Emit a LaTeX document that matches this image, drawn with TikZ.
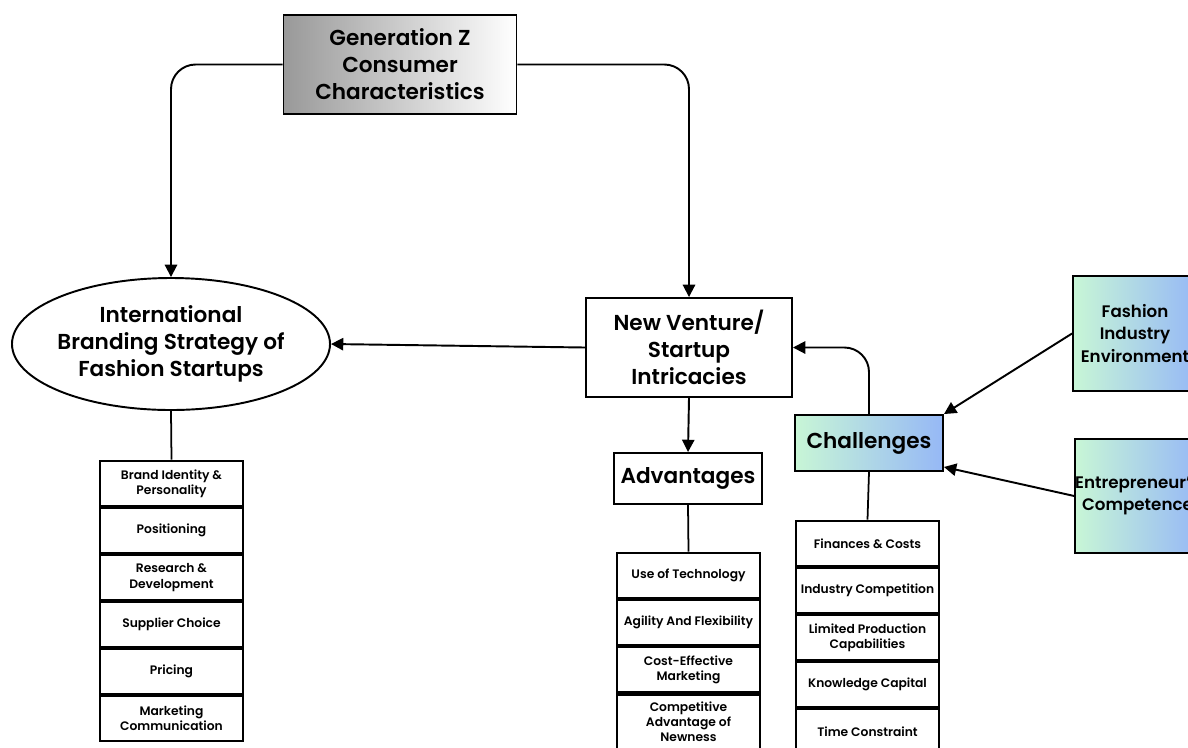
\documentclass[tikz,border=0pt]{standalone}
\usepackage{fontspec}
\setmainfont{Poppins}[UprightFont=* Medium,BoldFont=* SemiBold]
\usetikzlibrary{arrows.meta,shapes.geometric}
\definecolor{mint}{RGB}{200,246,214}
\definecolor{skyblue}{RGB}{150,184,246}
\begin{document}
\begin{tikzpicture}[
    arr/.style={-{Triangle[length=7pt,width=7pt]},line width=1.1pt,rounded corners=14pt},
    link/.style={line width=1pt},
    mainbox/.style={draw,line width=1.1pt,align=center,inner sep=0pt,font=\bfseries\fontsize{12.3}{15.3}\selectfont},
    listbox/.style={draw,line width=1.5pt,align=center,inner sep=0pt,minimum width=2.86cm,
      minimum height=0.9cm,font=\fontsize{7}{8.6}\selectfont\bfseries},
    greenblue/.style={left color=mint,right color=skyblue}]
  \useasboundingbox (0,0) rectangle (23.76,-14.94);
  % top and middle row
  \node[mainbox,left color=black!40,right color=white,minimum width=4.66cm,minimum height=1.98cm]
    (genz) at (8.0,-1.29) {Generation Z\\Consumer\\Characteristics};
  \node[mainbox,ellipse,inner sep=-3pt,minimum width=6.36cm,minimum height=2.64cm]
    (brand) at (3.42,-6.88) {International\\Branding Strategy of\\Fashion Startups};
  \node[mainbox,minimum width=4.12cm,minimum height=1.98cm]
    (venture) at (13.78,-6.95) {New Venture/\\Startup\\Intricacies};
  \node[mainbox,minimum width=2.96cm,minimum height=1.02cm]
    (adv) at (13.76,-9.57) {Advantages};
  \node[mainbox,greenblue,minimum width=2.96cm,minimum height=1.12cm]
    (chal) at (17.38,-8.86) {Challenges};
  \node[mainbox,greenblue,minimum width=2.48cm,minimum height=2.3cm,
    font=\bfseries\fontsize{9.5}{12.7}\selectfont]
    (env) at (22.7,-6.67) {Fashion\\Industry\\Environment};
  \node[mainbox,greenblue,minimum width=2.48cm,minimum height=2.28cm,
    font=\bfseries\fontsize{9.5}{12.7}\selectfont]
    (comp) at (22.75,-9.92) {Entrepreneur's\\Competence};
  % lists
  \foreach \txt [count=\i] in {{Brand Identity \&\\Personality},Positioning,
      {Research \&\\Development},Supplier Choice,Pricing,{Marketing\\Communication}}
    \node[listbox] (brand\i) at (3.43,{-9.67-0.94*(\i-1)}) {\txt};
  \foreach \txt [count=\i] in {Use of Technology,Agility And Flexibility,
      {Cost-Effective\\Marketing}}
    \node[listbox] (adv\i) at (13.77,{-11.51-0.94*(\i-1)}) {\txt};
  \node[listbox,minimum height=1.1cm] (adv4) at (13.77,-14.44)
    {Competitive\\Advantage of\\Newness};
  \foreach \txt [count=\i] in {Finances \& Costs,Industry Competition,
      {Limited Production\\Capabilities},Knowledge Capital,Time Constraint}
    \node[listbox] (chal\i) at (17.35,{-10.87-0.94*(\i-1)}) {\txt};
  % connectors
  \draw[arr] (genz.west) -| (brand.north);
  \draw[arr] (genz.east) -| (venture.north);
  \draw[arr] (venture.west) -- (brand.east);
  \draw[arr] (venture.south) -- (adv.north);
  \draw[arr] (chal.north) |- (venture.east);
  \draw[arr] (env.west) -- (chal.north east);
  \draw[arr] (comp.west) -- ([yshift=0.1cm]chal.south east);
  \draw[link] (brand.south) -- (brand1.north);
  \draw[link] (adv.south) -- (adv1.north);
  \draw[link] (chal.south) -- (chal1.north);
\end{tikzpicture}
\end{document}
